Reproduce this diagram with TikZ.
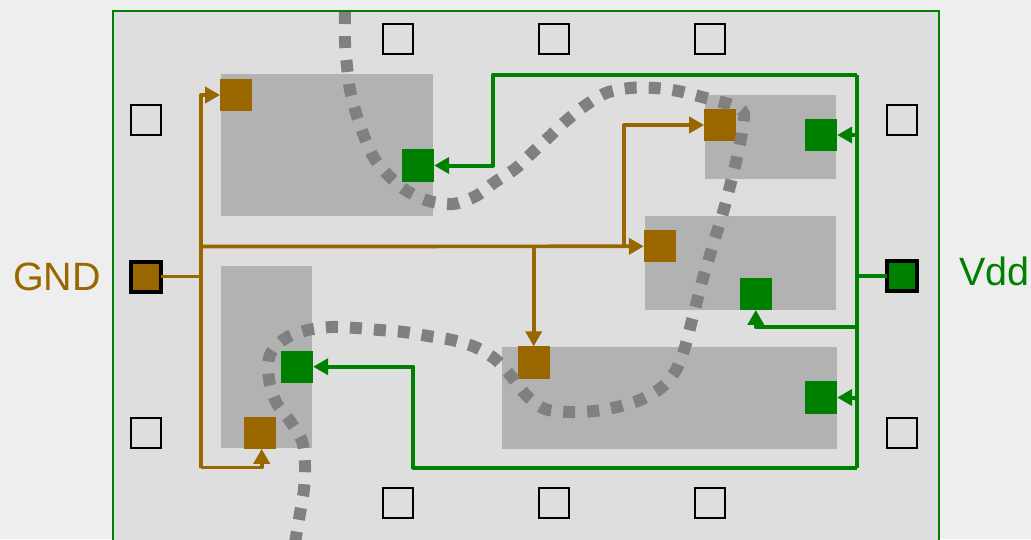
\documentclass[tikz,border=0pt]{standalone}
\usepackage{fontspec}
\setmainfont{Liberation Sans}
\usetikzlibrary{arrows.meta}
\definecolor{bgc}{HTML}{EEEEEE}
\definecolor{chipc}{HTML}{DEDEDE}
\definecolor{wellc}{HTML}{B2B2B2}
\definecolor{brn}{HTML}{996600}
\definecolor{grn}{HTML}{008000}
\definecolor{polyc}{HTML}{808080}
\tikzset{
  padb/.style={fill=brn,draw=none,minimum size=32.3pt,inner sep=0pt,outer sep=0pt},
  padg/.style={fill=grn,draw=none,minimum size=32.3pt,inner sep=0pt,outer sep=0pt},
  hollow/.style={draw=black,line width=2.4pt,minimum size=30pt,inner sep=0pt,outer sep=0pt},
  iopad/.style={draw=black,line width=4pt,minimum size=30pt,inner sep=0pt,outer sep=0pt},
  wireb/.style={draw=brn,line width=3.7pt,line join=round},
  wireg/.style={draw=grn,line width=4pt,line join=round},
  tip/.style={-{Triangle[length=15pt,width=16pt]}},
  well/.style={fill=wellc,draw=none},
  poly/.style={draw=polyc,line width=12pt,dash pattern=on 12pt off 12.02pt},
  lab/.style={inner sep=0pt,outer sep=0pt,anchor=base west,font=\fontsize{39.5}{41}\selectfont}
}
\begin{document}
\begin{tikzpicture}[x=1pt,y=-1pt]
\useasboundingbox (0,0) rectangle (1031,539);
\clip (0,0) rectangle (1031,539);
\fill[bgc] (0,0) rectangle (1031,539);
\filldraw[fill=chipc,draw=grn,line width=2.2pt] (113,11) rectangle (939,560);
% wells
\fill[well] (221,74) rectangle (433,216);
\fill[well] (705,95) rectangle (836,179);
\fill[well] (645,216) rectangle (836,310);
\fill[well] (221,266) rectangle (312,448);
\fill[well] (502,347) rectangle (837,449);
% contacts
\node[padb] (b1) at (236.3,95) {};
\node[padg] (g1) at (418,165.5) {};
\node[padb] (b2) at (720.3,125) {};
\node[padg] (g2) at (821,135) {};
\node[padb] (b3) at (660,246.3) {};
\node[padg] (g3) at (755.8,293.8) {};
\node[padb] (b4) at (260,432.7) {};
\node[padg] (g4) at (297,366.7) {};
\node[padb] (b5) at (533.7,362.5) {};
\node[padg] (g5) at (821,397.5) {};
% frame pads
\node[hollow] (t1) at (398,39) {};
\node[hollow] (t2) at (554,39) {};
\node[hollow] (t3) at (710,39) {};
\node[hollow] (d1) at (398,503) {};
\node[hollow] (d2) at (554,503) {};
\node[hollow] (d3) at (710,503) {};
\node[hollow] (l1) at (146,120) {};
\node[hollow] (l2) at (146,433) {};
\node[hollow] (r1) at (902,120) {};
\node[hollow] (r2) at (902,433) {};
\node[iopad,fill=brn] (gnd) at (145.7,276.5) {};
\node[iopad,fill=grn] (vdd) at (902,276.3) {};
% brown wiring
\coordinate (bt) at (200.8,95);
\coordinate (bm) at (200.8,246.5);
\coordinate (bg) at (200.8,276.5);
\coordinate (bb) at (200.8,467.5);
\coordinate (bc) at (261.7,467.5);
\coordinate (bx) at (533.7,246.5);
\coordinate (by) at (624.3,246.5);
\coordinate (bz) at (624.3,125);
\draw[wireb] (gnd.east) -- (bg);
\draw[wireb,tip] (bb) -- (bt) -- (b1.west);
\draw[wireb,tip] (bb) -- (bc) -- (b4.south -| bc);
\draw[wireb,tip] (bm) -- (b3.west);
\draw[wireb,tip] (bx) -- (b5.north);
\draw[wireb,tip] (by) -- (bz) -- (b2.west);
% green wiring
\coordinate (gt) at (856.8,74.5);
\coordinate (gb) at (856.8,467.5);
\coordinate (ga) at (493.4,74.5);
\coordinate (gc) at (493.4,165.5);
\coordinate (gd) at (413.3,467.5);
\coordinate (ge) at (413.3,366.7);
\coordinate (gf) at (856.8,326.7);
\coordinate (gh) at (755.8,326.7);
\coordinate (gi) at (856.8,135);
\coordinate (gj) at (856.8,397.5);
\coordinate (gv) at (856.8,276.3);
\draw[wireg] (vdd.west) -- (gv);
\draw[wireg] (gb) -- (gt);
\draw[wireg,tip] (gt) -- (ga) -- (gc) -- (g1.east);
\draw[wireg,tip] (gb) -- (gd) -- (ge) -- (g4.east);
\draw[wireg,tip] (gi) -- (g2.east);
\draw[wireg,tip] (gj) -- (g5.east);
\draw[wireg,tip] (gf) -- (gh) -- (g3.south);
% poly
\draw[poly] plot[smooth,tension=0.55] coordinates {(345,12) (345,42) (347,66) (350,90) (356,113) (364,136) (374,158) (389,176) (407,191) (429,201) (453,204) (476,196) (495,182) (515,169) (532,153) (550,136) (567,120) (586,105) (606,93) (630,88) (655,88) (678,91) (702,97) (725,103) (739,108) (744,114) (743.5,121) (741,139) (736,162) (730,186) (724,209) (717,232) (710,255) (703,278) (697,301) (691,324) (685,347) (676,370) (661,388) (640,400) (617,407) (594,411) (570,412) (545,409) (526,395) (511,376) (495,359) (475,347) (452,340) (428,336) (404,332) (380,330) (356,328) (332,327) (308,330) (286,338) (270,355) (269,379) (276,402) (290,421) (302,441) (305,465) (304,489) (300,513) (296,537) (294,550)};
% labels
\node[lab,text=brn] (gndt) at (13,290) {GND};
\node[lab,text=grn] (vddt) at (959,285.5) {Vdd};
\end{tikzpicture}
\end{document}
